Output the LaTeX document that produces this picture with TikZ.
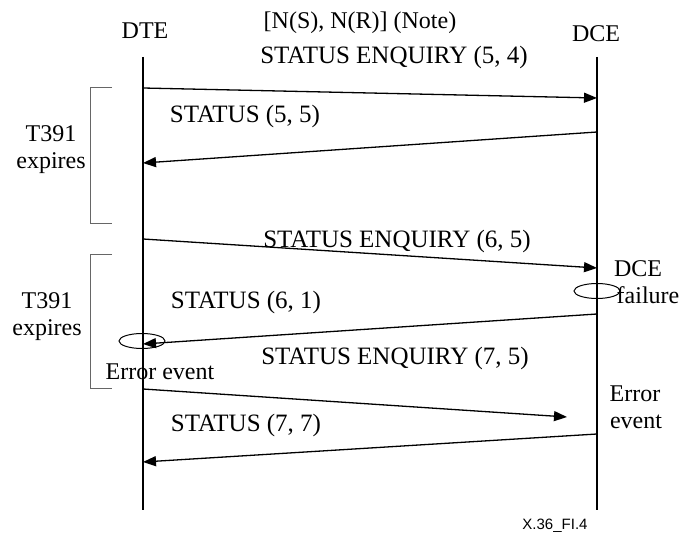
\documentclass[tikz,border=0pt]{standalone}
\usepackage{fontspec}
\setmainfont{Liberation Serif}
\newfontfamily\labsans{Liberation Sans}
\usetikzlibrary{arrows.meta,shapes.geometric}
\begin{document}
\begin{tikzpicture}[x=1pt,y=-1pt,
  lbl/.style={font=\fontsize{24}{28}\selectfont, inner sep=0pt, anchor=base},
  mlbl/.style={font=\fontsize{25}{29}\selectfont, inner sep=0pt, anchor=base},
  life/.style={line width=2pt},
  msg/.style={line width=1.3pt, -{Triangle[length=13pt,width=10pt]}},
  brk/.style={draw=black!60, line width=1pt},
  evt/.style={draw, ellipse, line width=1pt, minimum width=46pt, minimum height=15pt, inner sep=0pt}]
\useasboundingbox (0,0) rectangle (686,535);
% lifelines
\coordinate (dteT) at (143,57);
\coordinate (dteB) at (143,510);
\coordinate (dceT) at (597,57);
\coordinate (dceB) at (597,510);
\draw[life] (dteT) -- (dteB);
\draw[life] (dceT) -- (dceB);
\node[lbl] (dte) at (145,39) {DTE};
\node[lbl] (dce) at (596,42) {DCE};
\node[lbl] (note) at (360,29) {[N(S), N(R)] (Note)};
% message endpoints
\coordinate (m1s) at (143,88);  \coordinate (m1e) at (597,98);
\coordinate (m2s) at (597,132); \coordinate (m2e) at (143,163);
\coordinate (m3s) at (143,239); \coordinate (m3e) at (597,268);
\coordinate (m4s) at (597,314); \coordinate (m4e) at (143,344);
\coordinate (m5s) at (143,389); \coordinate (m5e) at (567,417);
\coordinate (m6s) at (597,434); \coordinate (m6e) at (143,462);
\draw[msg] (m1s) -- (m1e);
\draw[msg] (m2s) -- (m2e);
\draw[msg] (m3s) -- (m3e);
\draw[msg] (m4s) -- (m4e);
\draw[msg] (m5s) -- (m5e);
\draw[msg] (m6s) -- (m6e);
\node[mlbl] (l1) at (394,64) {STATUS ENQUIRY (5, 4)};
\node[mlbl] (l2) at (245,122) {STATUS (5, 5)};
\node[mlbl] (l3) at (397,247) {STATUS ENQUIRY (6, 5)};
\node[mlbl] (l4) at (246,308) {STATUS (6, 1)};
\node[mlbl] (l5) at (395,364) {STATUS ENQUIRY (7, 5)};
\node[mlbl] (l6) at (246,431) {STATUS (7, 7)};
% events
\node[evt] (e1) at (597,291) {};
\node[evt] (e2) at (142,341) {};
\node[lbl] (f1a) at (638,276) {DCE};
\node[lbl] (f1b) at (648,303) {failure};
\node[lbl] (f2) at (160,379) {Error event};
\node[lbl] (f3a) at (635,401) {Error};
\node[lbl] (f3b) at (636,428) {event};
% brackets
\draw[brk] (112,88) -- (90,88) -- (90,223) -- (112,223);
\draw[brk] (112,254) -- (90,254) -- (90,388) -- (112,388);
\node[lbl] (t1a) at (51,141) {T391};
\node[lbl] (t1b) at (51,168) {expires};
\node[lbl] (t2a) at (47,308) {T391};
\node[lbl] (t2b) at (47,335) {expires};
\node[font=\labsans\fontsize{15}{17}\selectfont, inner sep=0pt, anchor=base] (fig) at (555,529) {X.36\_FI.4};
\end{tikzpicture}
\end{document}
